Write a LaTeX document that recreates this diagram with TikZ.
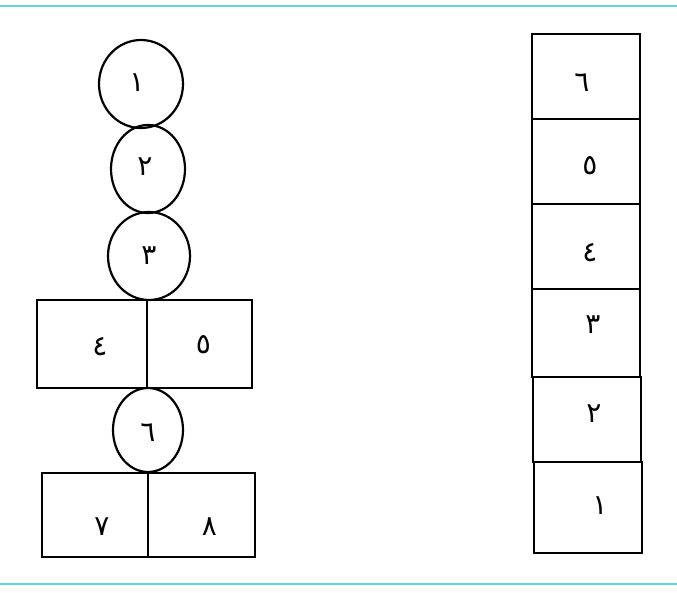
\documentclass[tikz,border=0pt]{standalone}
\usepackage{fontspec}
\newfontfamily\arabicfont[Script=Arabic]{DejaVu Sans}
\usetikzlibrary{shapes.geometric}
\definecolor{rulecyan}{RGB}{95,215,222}
\tikzset{
  ink/.style={draw=black, line width=2.2pt, inner sep=0pt, outer sep=0pt},
  blob/.style={ink, ellipse},
  cell/.style={ink, rectangle},
  dig/.style={font=\arabicfont\fontsize{28}{30}\selectfont, inner sep=0pt},
  dg/.style n args={3}{label={[dig, shift={(#1,#2)}]center:#3}},
  rule/.style={draw=rulecyan, line width=1.8pt}
}
\begin{document}
\begin{tikzpicture}[x=1pt,y=-1pt]
\useasboundingbox (0,0) rectangle (677,593);
\coordinate (tl) at (0,6); \coordinate (tr) at (677,6);
\coordinate (bl) at (0,584); \coordinate (br) at (677,584);
\draw[rule] (tl) -- (tr);
\draw[rule] (bl) -- (br);
% left column
\node[blob, minimum width=84pt, minimum height=88pt, dg={-4}{-1}{١}] (c1) at (141,84) {};
\node[blob, minimum width=74pt, minimum height=88pt, dg={-3}{-2}{٢}] (c2) at (148,169) {};
\node[blob, minimum width=82pt, minimum height=88pt, dg={0}{0}{٣}] (c3) at (149,256) {};
\node[cell, minimum width=110pt, minimum height=88pt, dg={8}{3}{٤}] (b4) at (92,344) {};
\node[cell, minimum width=105pt, minimum height=88pt, dg={4}{1}{٥}] (b5) at (199.5,344) {};
\node[blob, minimum width=70pt, minimum height=84pt, dg={0}{3}{٦}] (c6) at (148,430) {};
\node[cell, minimum width=106pt, minimum height=84pt, dg={7}{12}{٧}] (b7) at (95,515) {};
\node[cell, minimum width=107pt, minimum height=84pt, dg={8}{12}{٨}] (b8) at (201.5,515) {};
% right column
\node[cell, minimum width=108pt, minimum height=85pt, dg={-4}{6}{٦}] (r6) at (586,76.5) {};
\node[cell, minimum width=108pt, minimum height=85pt, dg={4}{4}{٥}] (r5) at (586,161.5) {};
\node[cell, minimum width=108pt, minimum height=85pt, dg={4}{6}{٤}] (r4) at (586,246.5) {};
\node[cell, minimum width=108pt, minimum height=88pt, dg={7}{-8}{٣}] (r3) at (586,333) {};
\node[cell, minimum width=108pt, minimum height=85pt, dg={7}{-6}{٢}] (r2) at (587,419.5) {};
\node[cell, minimum width=108pt, minimum height=91pt, dg={12}{-2}{١}] (r1) at (588,507.5) {};
\end{tikzpicture}
\end{document}
